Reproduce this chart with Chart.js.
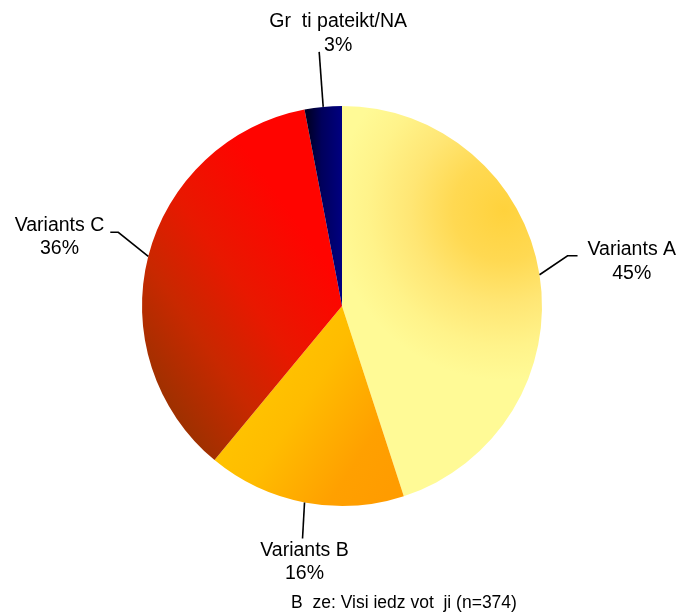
<!DOCTYPE html>
<html>
<head>
<meta charset="utf-8">
<script src="https://cdn.jsdelivr.net/npm/chart.js@4.4.1/dist/chart.umd.min.js"></script>
<style>
  html, body { margin: 0; padding: 0; background: #ffffff; }
  #wrap { width: 683px; height: 614px; }
</style>
</head>
<body>
<div id="wrap"><canvas id="pie" width="683" height="614"></canvas></div>
<script>
// Data
const categories = ['Variants A', 'Variants B', 'Variants C', 'Gr  ti pateikt/NA'];
const shares = [45, 16, 36, 3];
const footnote = 'B  ze: Visi iedz vot  ji (n=374)';

const FONT = '"Liberation Sans", Arial, sans-serif';

// Leader line shape per slice: offsets from the slice edge point
const leaders = [
    { elbow: [28, -19], tail: 10, align: 'left' },
    { elbow: [-2, 36], tail: 0, align: 'center' },
    { elbow: [-30, -24], tail: -8, align: 'right' },
    { elbow: [-4, -55], tail: 0, align: 'center' },
];

function sliceFill(ctx) {
    const ca = ctx.chart.chartArea;
    const fallback = ['#ffe870', '#ffb800', '#e81800', '#000070'][ctx.dataIndex];
    if (!ca) return fallback;
    const c = ctx.chart.ctx;
    const cx = (ca.left + ca.right) / 2;
    const cy = (ca.top + ca.bottom) / 2;
    const r = Math.min(ca.right - ca.left, ca.bottom - ca.top) / 2;
    let g;
    switch (ctx.dataIndex) {
        case 0:
            // golden glow in the upper right, pale elsewhere
            g = c.createRadialGradient(cx + 0.81 * r, cy - 0.48 * r, 0, cx + 0.81 * r, cy - 0.48 * r, 0.85 * r);
            g.addColorStop(0, '#ffd23c');
            g.addColorStop(0.3, '#ffd952');
            g.addColorStop(0.55, '#ffe674');
            g.addColorStop(0.8, '#fff38a');
            g.addColorStop(1, '#fffa96');
            return g;
        case 1:
            g = c.createLinearGradient(cx - 0.66 * r, cy + 0.3 * r, cx + 0.25 * r, cy + 0.9 * r);
            g.addColorStop(0, '#ffcb00');
            g.addColorStop(0.45, '#ffbc00');
            g.addColorStop(0.8, '#ffa000');
            g.addColorStop(1, '#ff9c00');
            return g;
        case 2:
            g = c.createLinearGradient(cx - 0.85 * r, cy + 0.5 * r, cx, cy - 0.1 * r);
            g.addColorStop(0, '#a03000');
            g.addColorStop(0.3, '#c82800');
            g.addColorStop(0.6, '#e81800');
            g.addColorStop(1, '#ff0400');
            return g;
        default:
            g = c.createLinearGradient(cx - 0.17 * r, cy, cx, cy);
            g.addColorStop(0, '#000028');
            g.addColorStop(0.4, '#00005c');
            g.addColorStop(1, '#000080');
            return g;
    }
}

const labelPlugin = {
    id: 'sliceLabels',
    afterDatasetsDraw(chart) {
        const ctx = chart.ctx;
        const arcs = chart.getDatasetMeta(0).data;
        ctx.save();
        ctx.strokeStyle = '#000000';
        ctx.lineWidth = 1.6;
        ctx.fillStyle = '#000000';
        ctx.font = '19.5px ' + FONT;
        ctx.textBaseline = 'middle';
        arcs.forEach((arc, i) => {
            const p = arc.getProps(['x', 'y', 'startAngle', 'endAngle', 'outerRadius'], true);
            const mid = (p.startAngle + p.endAngle) / 2;
            const ex = p.x + Math.cos(mid) * p.outerRadius;
            const ey = p.y + Math.sin(mid) * p.outerRadius;
            const L = leaders[i];
            const bx = ex + L.elbow[0];
            const by = ey + L.elbow[1];
            const tx = bx + L.tail;
            ctx.beginPath();
            ctx.moveTo(ex, ey);
            ctx.lineTo(bx, by);
            if (L.tail) ctx.lineTo(tx, by);
            ctx.stroke();

            const lines = [categories[i], shares[i] + '%'];
            const w = ctx.measureText(lines[0]).width;
            let centerX, firstY;
            if (L.align === 'left') {
                centerX = tx + 10 + w / 2;
                firstY = by - 6;
            } else if (L.align === 'right') {
                centerX = tx - 6 - w / 2;
                firstY = by - 7;
            } else if (L.elbow[1] > 0) {
                centerX = bx + 2;
                firstY = by + 12;
            } else {
                centerX = bx + 19;
                firstY = by - 30;
            }
            ctx.textAlign = 'center';
            ctx.fillText(lines[0], centerX, firstY);
            ctx.fillText(lines[1], centerX, firstY + 23.5);
        });

        ctx.font = '17.5px ' + FONT;
        ctx.textAlign = 'center';
        ctx.fillText(footnote, 404, 603);
        ctx.restore();
    }
};

new Chart(document.getElementById('pie'), {
    type: 'pie',
    data: {
        labels: categories,
        datasets: [{
            data: shares,
            backgroundColor: sliceFill,
            borderWidth: 0,
        }]
    },
    options: {
        responsive: false,
        animation: false,
        layout: { padding: { left: 142, right: 141, top: 106, bottom: 108 } },
        plugins: {
            legend: { display: false },
            tooltip: { enabled: false },
        }
    },
    plugins: [labelPlugin]
});
</script>
</body>
</html>
